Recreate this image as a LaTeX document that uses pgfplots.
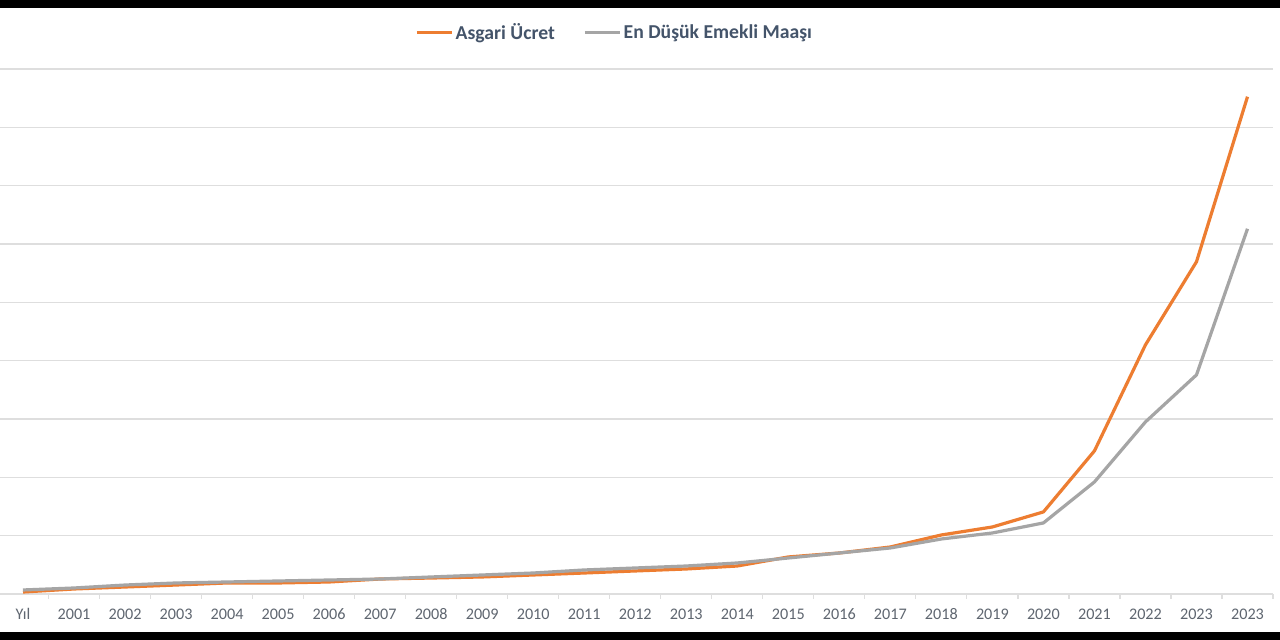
\documentclass[border=0pt]{standalone}
\usepackage{fontspec}
\setmainfont{Carlito}
\usepackage{pgfplots}
\pgfplotsset{compat=1.18}
\definecolor{orng}{HTML}{ED7D31}
\definecolor{gry}{HTML}{A5A5A5}
\definecolor{gridc}{HTML}{DEDEDE}
\definecolor{lbl}{HTML}{5F6670}
\definecolor{leg}{HTML}{44546A}
\begin{document}
\begin{tikzpicture}[x=1mm,y=1mm]
\useasboundingbox (0,0) rectangle (320,160);
\fill[white] (0,0) rectangle (320,160);
\begin{axis}[
  at={(-0.625mm,11.5mm)}, anchor=south west,
  scale only axis, width=318.875mm, height=131.25mm,
  xmin=-0.5, xmax=24.5, ymin=0, ymax=9,
  axis x line*=bottom, axis y line*=left,
  x axis line style={-, draw=gridc, line width=0.3mm},
  y axis line style={draw=none},
  xtick={0,...,24},
  xticklabels={Yıl,2001,2002,2003,2004,2005,2006,2007,2008,2009,2010,2011,2012,2013,2014,2015,2016,2017,2018,2019,2020,2021,2022,2023,2023},
  minor xtick={-0.5,0.5,...,24.5},
  major x tick style={draw=none},
  minor x tick style={draw=gridc, line width=0.3mm},
  minor tick length=1.2mm,
  tick align=outside,
  ytick={1,...,9}, yticklabels={},
  major y tick style={draw=none},
  ymajorgrids, grid style={draw=gridc, line width=0.3mm},
  xticklabel style={font=\fontsize{11.5}{13}\selectfont, text=lbl, anchor=base, yshift=-5.0mm},
  legend style={at={(0.484,1.0686)}, anchor=center, draw=none, fill=none,
    legend columns=2, font=\bfseries\fontsize{14}{16}\selectfont, text=leg,
    nodes={inner xsep=0.6mm},
    /tikz/every even column/.append style={column sep=6.5mm}},
  legend image code/.code={\draw[#1, line width=0.75mm] (0mm,0mm) -- (8.75mm,0mm);},
]
\addplot[orng, line width=0.8mm, line join=round, no markers] coordinates {
(0,0.034) (1,0.086) (2,0.12) (3,0.154) (4,0.189) (5,0.189) (6,0.206) (7,0.257)
(8,0.274) (9,0.292) (10,0.326) (11,0.36) (12,0.395) (13,0.429) (14,0.48)
(15,0.635) (16,0.703) (17,0.806) (18,1.012) (19,1.149) (20,1.407) (21,2.453)
(22,4.271) (23,5.695) (24,8.525)};
\addlegendentry{Asgari Ücret}
\addplot[gry, line width=0.8mm, line join=round, no markers] coordinates {
(0,0.069) (1,0.103) (2,0.154) (3,0.189) (4,0.206) (5,0.223) (6,0.24) (7,0.257)
(8,0.292) (9,0.326) (10,0.36) (11,0.412) (12,0.446) (13,0.48) (14,0.532)
(15,0.617) (16,0.703) (17,0.789) (18,0.943) (19,1.046) (20,1.218) (21,1.921)
(22,2.95) (23,3.756) (24,6.261)};
\addlegendentry{En Düşük Emekli Maaşı}
\end{axis}
\fill[black] (0,0) rectangle (320,1.9);
\fill[black] (0,158.1) rectangle (320,160);
\end{tikzpicture}
\end{document}
